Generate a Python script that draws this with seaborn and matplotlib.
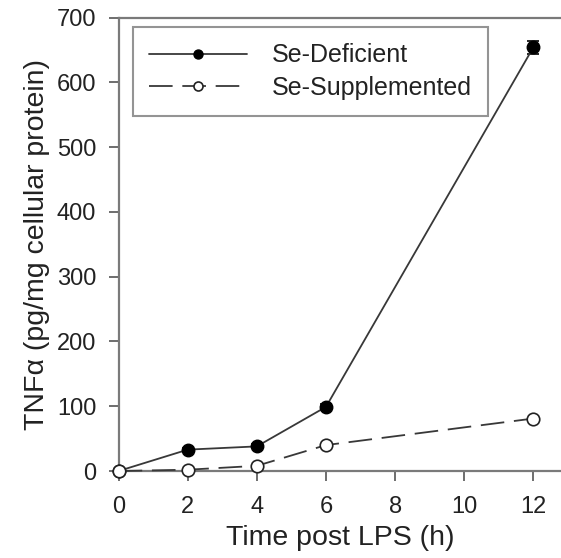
import matplotlib
matplotlib.use('Agg')
import matplotlib.pyplot as plt
import seaborn as sns

# ---- data ----
time_h = [0, 2, 4, 6, 12]
se_deficient = [0, 33, 38, 99, 654]
se_deficient_err = [0, 3, 3, 4, 10]
se_supplemented = [0, 2, 8, 40, 81]
se_supplemented_err = [0, 1, 1, 2, 3]
x_ticks = [0, 2, 4, 6, 8, 10, 12]
y_ticks = [0, 100, 200, 300, 400, 500, 600, 700]
series_labels = ['Se-Deficient', 'Se-Supplemented']

sns.set_theme(style='ticks')
plt.rcParams['font.family'] = ['Liberation Sans', 'DejaVu Sans']
plt.rcParams['lines.scale_dashes'] = False
plt.rcParams['text.color'] = '#222222'
plt.rcParams['axes.labelcolor'] = '#222222'
plt.rcParams['xtick.color'] = '#555555'
plt.rcParams['ytick.color'] = '#555555'
plt.rcParams['xtick.labelcolor'] = '#222222'
plt.rcParams['ytick.labelcolor'] = '#222222'

fig = plt.figure(figsize=(5.61, 5.58), dpi=100)
ax = fig.add_axes([0.2114, 0.1559, 1 - 0.2114, 0.8127])

line_col = '#383838'

# error bars
ax.errorbar(time_h, se_deficient, yerr=se_deficient_err, fmt='none',
            ecolor='black', elinewidth=1.2, capsize=4.3, capthick=1.2, zorder=2)
ax.errorbar(time_h, se_supplemented, yerr=se_supplemented_err, fmt='none',
            ecolor='black', elinewidth=1.0, capsize=3, capthick=1.0, zorder=2)

sns.lineplot(x=time_h, y=se_deficient, ax=ax, color=line_col, lw=1.3,
             marker='o', markersize=9, markerfacecolor='black',
             markeredgecolor='black', markeredgewidth=1.0,
             label=series_labels[0], clip_on=False, zorder=3)
sns.lineplot(x=time_h, y=se_supplemented, ax=ax, color=line_col, lw=1.3,
             linestyle=(0, (17, 7)),
             marker='o', markersize=9, markerfacecolor='white',
             markeredgecolor='#222222', markeredgewidth=1.2,
             label=series_labels[1], clip_on=False, zorder=4)

ax.set_xlim(0, 12.8)
ax.set_ylim(0, 700)
ax.set_xticks(x_ticks)
ax.set_yticks(y_ticks)

for s in ['left', 'bottom', 'top']:
    ax.spines[s].set_color('#7a7a7a')
    ax.spines[s].set_linewidth(1.6)
ax.spines['right'].set_visible(False)

ax.tick_params(axis='both', direction='out', length=7, width=1.2, labelsize=17)
ax.tick_params(axis='y', pad=9)
ax.tick_params(axis='x', pad=11)

ax.set_xlabel('Time post LPS (h)', fontsize=20.5, labelpad=5)
ax.set_ylabel('TNFα (pg/mg cellular protein)', fontsize=20.5, labelpad=5)

leg = ax.legend(loc='upper left', bbox_to_anchor=(133 / 561, 1 - 27 / 558),
                bbox_transform=fig.transFigure, borderaxespad=0,
                fontsize=18, frameon=True, fancybox=False, handlelength=3.9,
                handletextpad=1.0, labelspacing=0.35, borderpad=0.65,
                markerscale=0.72)
leg.get_frame().set_edgecolor('#7a7a7a')
leg.get_frame().set_linewidth(1.5)

fig.savefig('out.png', dpi=100)
